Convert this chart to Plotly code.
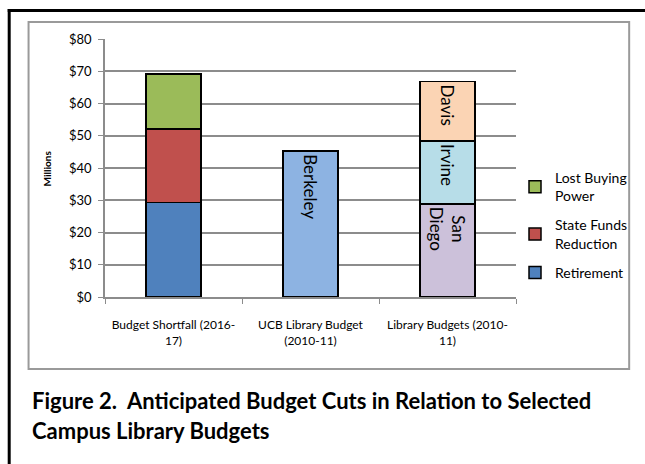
import plotly.graph_objects as go

# ---- data ----
categories = ["Budget Shortfall (2016-<br>17)", "UCB Library Budget<br>(2010-11)", "Library Budgets (2010-<br>11)"]
shortfall_names = ["Retirement", "State Funds Reduction", "Lost Buying Power"]
shortfall_legend = ["Retirement", "State Funds<br>Reduction", "Lost Buying<br>Power"]
shortfall_values = [29.3, 22.8, 17.0]
shortfall_colors = ["#4F81BD", "#C0504D", "#9BBB59"]

ucb_names = ["Berkeley"]
ucb_values = [45.2]
ucb_colors = ["#8DB3E2"]

campus_names = ["San Diego", "Irvine", "Davis"]
campus_labels = ["San<br>Diego", "Irvine", "Davis"]
campus_values = [28.9, 19.5, 18.4]
campus_colors = ["#CCC1DA", "#B7DDE8", "#FBD4B4"]

y_ticks = [0, 10, 20, 30, 40, 50, 60, 70, 80]
y_ticktext = ["$" + str(v) for v in y_ticks]

# ---- layout geometry (pixels) ----
W, H = 645, 464
L, R, T, B = 105, 519, 39, 297

def px2x(px):
    return (px - L) / (R - L)

def px2y(py):
    return (B - py) / (B - T)

FONT = "Lato"
fig = go.Figure()

n_sf = len(shortfall_names)
for i, (n, lg, v, c) in enumerate(zip(shortfall_names, shortfall_legend, shortfall_values, shortfall_colors)):
    fig.add_trace(go.Bar(
        x=[categories[0]], y=[v], name=lg, legendgroup=n, legendrank=1000 + (n_sf - i),
        marker=dict(color=c, line=dict(color="black", width=1.5)),
    ))

for n, v, c in zip(ucb_names, ucb_values, ucb_colors):
    fig.add_trace(go.Bar(
        x=[categories[1]], y=[v], name=n, showlegend=False,
        text=[n], textposition="inside", insidetextanchor="end", textangle=90,
        constraintext="none", textfont=dict(family=FONT, size=17, color="black"),
        marker=dict(color=c, line=dict(color="black", width=1.5)),
    ))

for n, lab, v, c in zip(campus_names, campus_labels, campus_values, campus_colors):
    fig.add_trace(go.Bar(
        x=[categories[2]], y=[v], name=n, showlegend=False,
        text=[lab], textposition="inside", insidetextanchor="end", textangle=90,
        constraintext="none", textfont=dict(family=FONT, size=17, color="black"),
        marker=dict(color=c, line=dict(color="black", width=1.5)),
    ))

shapes = []
# inner gray chart box
shapes.append(dict(type="rect", xref="paper", yref="paper",
                   x0=px2x(28), x1=px2x(633), y0=px2y(369), y1=px2y(22),
                   line=dict(color="#9A9A9A", width=2), layer="below"))
# outer black frame (top and left)
shapes.append(dict(type="line", xref="paper", yref="paper",
                   x0=px2x(7), x1=px2x(650), y0=px2y(10.5), y1=px2y(10.5),
                   line=dict(color="black", width=3)))
shapes.append(dict(type="line", xref="paper", yref="paper",
                   x0=px2x(8.5), x1=px2x(8.5), y0=px2y(9), y1=px2y(470),
                   line=dict(color="black", width=3)))

annotations = [
    dict(text="<b>Millions</b>", xref="paper", yref="paper", x=px2x(47), y=px2y(168),
         textangle=-90, showarrow=False, font=dict(family=FONT, size=10, color="black"),
         xanchor="center", yanchor="middle"),
    dict(text="<b>Figure 2.  Anticipated Budget Cuts in Relation to Selected</b>",
         xref="paper", yref="paper", x=px2x(29), y=px2y(400), showarrow=False,
         xanchor="left", yanchor="middle", font=dict(family=FONT, size=22, color="black")),
    dict(text="<b>Campus Library Budgets</b>",
         xref="paper", yref="paper", x=px2x(29), y=px2y(430), showarrow=False,
         xanchor="left", yanchor="middle", font=dict(family=FONT, size=22, color="black")),
]

fig.update_layout(
    width=W, height=H,
    margin=dict(l=L, r=W - R, t=T, b=H - B, pad=0),
    paper_bgcolor="white", plot_bgcolor="white",
    barmode="stack", bargap=0.6,
    font=dict(family=FONT, color="black"),
    showlegend=True,
    legend=dict(x=px2x(518), y=px2y(162), xanchor="left", yanchor="top",
                traceorder="grouped", tracegroupgap=8,
                font=dict(family=FONT, size=14, color="black"),
                itemwidth=30, bgcolor="rgba(0,0,0,0)"),
    shapes=shapes, annotations=annotations,
    xaxis=dict(type="category", showgrid=False, showline=True, linecolor="#8C8C8C", linewidth=1.5,
               ticks="outside", tickson="boundaries", ticklen=5, tickcolor="#8C8C8C",
               tickfont=dict(family=FONT, size=12, color="black"), ticklabelstandoff=16,
               fixedrange=True),
    yaxis=dict(range=[0, 80], tickmode="array", tickvals=y_ticks, ticktext=y_ticktext, showgrid=True,
               gridcolor="#8C8C8C", gridwidth=1.5, showline=True, linecolor="#8C8C8C", linewidth=1.5,
               ticks="outside", ticklen=5, tickcolor="#8C8C8C", zeroline=False,
               tickfont=dict(family=FONT, size=13, color="black"), ticklabelstandoff=4),
)

fig.write_html("out.html")
